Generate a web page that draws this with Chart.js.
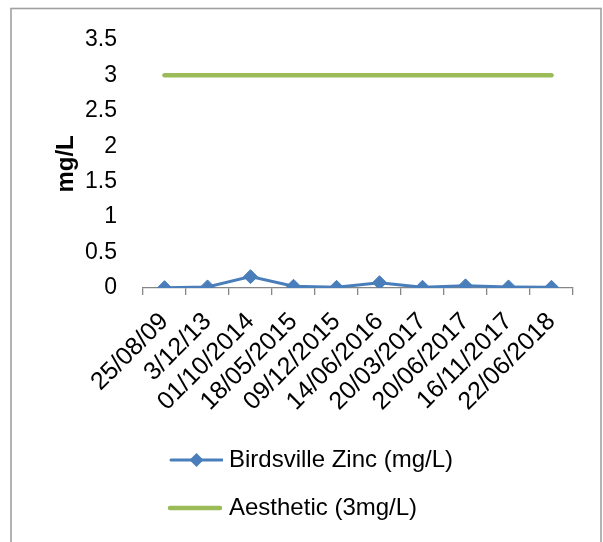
<!DOCTYPE html>
<html>
<head>
<meta charset="utf-8">
<script src="https://cdn.jsdelivr.net/npm/chart.js@4/dist/chart.umd.min.js"></script>
<style>
  html, body { margin: 0; padding: 0; background: #fff; }
  #wrap { width: 603px; height: 542px; position: relative; }
</style>
</head>
<body>
<div id="wrap"><canvas id="c" width="603" height="542"></canvas></div>
<script>
// Sampling dates
const sampleDates = ['25/08/09', '3/12/13', '01/10/2014', '18/05/2015', '09/12/2015',
  '14/06/2016', '20/03/2017', '20/06/2017', '16/11/2017', '22/06/2018'];
// Measured zinc concentration (mg/L)
const zincValues = [0.005, 0.015, 0.16, 0.025, 0.01, 0.075, 0.01, 0.03, 0.015, 0.01];
// Aesthetic guideline (mg/L)
const aestheticValues = [3, 3, 3, 3, 3, 3, 3, 3, 3, 3];
// Y-axis ticks
const yTicks = [0, 0.5, 1, 1.5, 2, 2.5, 3, 3.5];

const BLUE = '#4a7ebb';
const GREEN = '#9bbb59';
const FONT = '"Liberation Sans", Arial, sans-serif';

// Legend swatches: a line with a diamond, and a thick plain line
function swatchZinc() {
  const cv = document.createElement('canvas');
  cv.width = 62; cv.height = 16;
  const g = cv.getContext('2d');
  g.strokeStyle = BLUE; g.lineWidth = 3; g.lineCap = 'round';
  g.beginPath(); g.moveTo(10, 8); g.lineTo(61, 8); g.stroke();
  g.fillStyle = BLUE;
  g.beginPath(); g.moveTo(35.5, 1); g.lineTo(42.5, 8); g.lineTo(35.5, 15); g.lineTo(28.5, 8); g.closePath(); g.fill();
  return cv;
}
function swatchAesthetic() {
  const cv = document.createElement('canvas');
  cv.width = 62; cv.height = 16;
  const g = cv.getContext('2d');
  g.strokeStyle = GREEN; g.lineWidth = 4.5; g.lineCap = 'round';
  g.beginPath(); g.moveTo(9, 8); g.lineTo(59, 8); g.stroke();
  return cv;
}
const swatches = [swatchZinc(), swatchAesthetic()];

// Outer frame around the chart
const framePlugin = {
  id: 'frame',
  afterDraw(chart) {
    const ctx = chart.ctx;
    ctx.save();
    ctx.strokeStyle = '#a0a0a0';
    ctx.lineWidth = 1.6;
    ctx.strokeRect(11, 8.5, 590, 600);
    ctx.restore();
  }
};

new Chart(document.getElementById('c'), {
  type: 'line',
  data: {
    labels: sampleDates,
    datasets: [
      {
        label: 'Birdsville Zinc (mg/L)',
        data: zincValues,
        borderColor: BLUE,
        backgroundColor: BLUE,
        borderWidth: 3,
        pointStyle: 'rectRot',
        pointRadius: 7,
        pointBorderWidth: 1,
        tension: 0
      },
      {
        label: 'Aesthetic (3mg/L)',
        data: aestheticValues,
        borderColor: GREEN,
        backgroundColor: GREEN,
        borderWidth: 4.5,
        borderCapStyle: 'round',
        pointRadius: 0,
        tension: 0
      }
    ]
  },
  options: {
    responsive: false,
    animation: false,
    devicePixelRatio: 1,
    layout: { padding: { top: 38, right: 30, bottom: 12, left: 0 } },
    plugins: {
      tooltip: { enabled: false },
      legend: {
        position: 'bottom',
        align: 'start',
        fullSize: false,
        labels: {
          usePointStyle: true,
          pointStyleWidth: 50,
          padding: 24,
          color: '#000',
          font: { family: FONT, size: 24 },
          generateLabels(chart) {
            const items = Chart.defaults.plugins.legend.labels.generateLabels(chart);
            items.forEach((it, i) => { it.pointStyle = swatches[i]; });
            return items;
          }
        }
      }
    },
    scales: {
      x: {
        offset: true,
        afterFit(s) { s.height = 136; },
        grid: {
          offset: true,
          drawOnChartArea: false,
          drawTicks: true,
          tickLength: 7,
          color: '#868686',
          lineWidth: 1.3
        },
        border: { display: true, color: '#868686', width: 1.3 },
        ticks: {
          autoSkip: false,
          maxRotation: 45,
          minRotation: 45,
          padding: 12,
          color: '#000',
          font: { family: FONT, size: 25 }
        }
      },
      y: {
        min: 0,
        max: 3.5,
        afterFit(s) { s.width = 143; },
        afterBuildTicks(s) { s.ticks = yTicks.map(v => ({ value: v })); },
        grid: { display: false, drawTicks: false },
        border: { display: false },
        ticks: {
          padding: 26,
          color: '#000',
          font: { family: FONT, size: 23 },
          callback: v => String(v)
        },
        title: {
          display: true,
          text: 'mg/L',
          color: '#000',
          padding: { top: 52, bottom: 0 },
          font: { family: FONT, size: 24, weight: 'bold' }
        }
      }
    }
  },
  plugins: [framePlugin]
});
</script>
</body>
</html>
